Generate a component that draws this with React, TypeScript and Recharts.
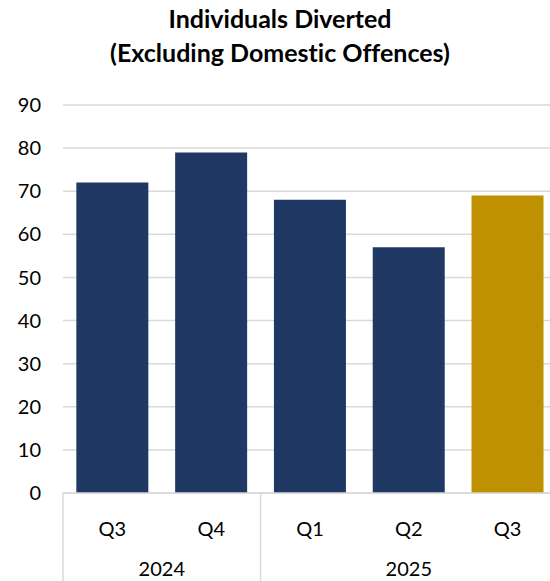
import { BarChart, Bar, XAxis, YAxis, CartesianGrid, Cell } from 'recharts'

const quarters = ['Q3', 'Q4', 'Q1', 'Q2', 'Q3']
const years = ['2024', '2024', '2025', '2025', '2025']
const diverted = [72, 79, 68, 57, 69]
const yTicks = [0, 10, 20, 30, 40, 50, 60, 70, 80, 90]

const NAVY = '#203864'
const GOLD = '#BF9000'
const GRID = '#d9d9d9'
const FONT = 'Lato, Calibri, sans-serif'

const CHART_W = 560
const CHART_H = 581
const margin = { top: 105, right: 3, bottom: 0, left: 0 }
const Y_AXIS_W = 63
const X_AXIS_H = 88

const data = quarters.map((q, i) => ({ key: `${years[i]}-${q}`, quarter: q, year: years[i], value: diverted[i] }))

const band = (CHART_W - margin.left - margin.right - Y_AXIS_W) / data.length

// two-row category axis: quarter on top, year underneath with group dividers
const GroupedTick = ({ x, payload }: any) => {
  const i = payload.index
  const row = data[i]
  const startsGroup = i === 0 || data[i - 1].year !== row.year
  let size = 0
  if (startsGroup) {
    while (i + size < data.length && data[i + size].year === row.year) size++
  }
  const left = x - band / 2
  const base = CHART_H - X_AXIS_H
  return (
    <g>
      <text x={x} y={base + 35} textAnchor="middle" dominantBaseline="central" fontSize={20} fill="#000" fontFamily={FONT}>
        {row.quarter}
      </text>
      {startsGroup && (
        <>
          <line x1={left} y1={base} x2={left} y2={CHART_H} stroke={GRID} strokeWidth={1.5} />
          <text x={left + (size * band) / 2} y={base + 75} textAnchor="middle" dominantBaseline="central" fontSize={20} fill="#000" fontFamily={FONT}>
            {row.year}
          </text>
        </>
      )}
    </g>
  )
}

export default function App() {
  return (
    <div style={{ position: 'absolute', top: 0, left: 0, width: 550, height: 581, overflow: 'hidden', background: '#fff' }}>
      <div
        style={{
          position: 'absolute',
          top: 1,
          left: 0,
          width: 560,
          textAlign: 'center',
          fontFamily: FONT,
          fontWeight: 700,
          fontSize: 25,
          lineHeight: '34px',
          fontVariantLigatures: 'none',
          color: '#000',
          zIndex: 1,
        }}
      >
        Individuals Diverted
        <br />
        (Excluding Domestic Offences)
      </div>
      <BarChart width={CHART_W} height={CHART_H} data={data} margin={margin} barCategoryGap="13.5%" style={{ overflow: 'visible' }}>
        <CartesianGrid vertical={false} stroke={GRID} strokeWidth={1.5} />
        <XAxis
          dataKey="key"
          interval={0}
          height={X_AXIS_H}
          tickLine={false}
          tickSize={0}
          axisLine={{ stroke: GRID, strokeWidth: 1.5 }}
          tick={<GroupedTick />}
        />
        <YAxis
          domain={[0, 90]}
          ticks={yTicks}
          width={Y_AXIS_W}
          axisLine={false}
          tickLine={false}
          tickSize={0}
          tickMargin={22}
          tick={{ fontSize: 20, fill: '#000', fontFamily: FONT }}
        />
        <Bar dataKey="value" isAnimationActive={false}>
          {data.map((d, i) => (
            <Cell key={d.key} fill={i === data.length - 1 ? GOLD : NAVY} />
          ))}
        </Bar>
      </BarChart>
    </div>
  )
}
